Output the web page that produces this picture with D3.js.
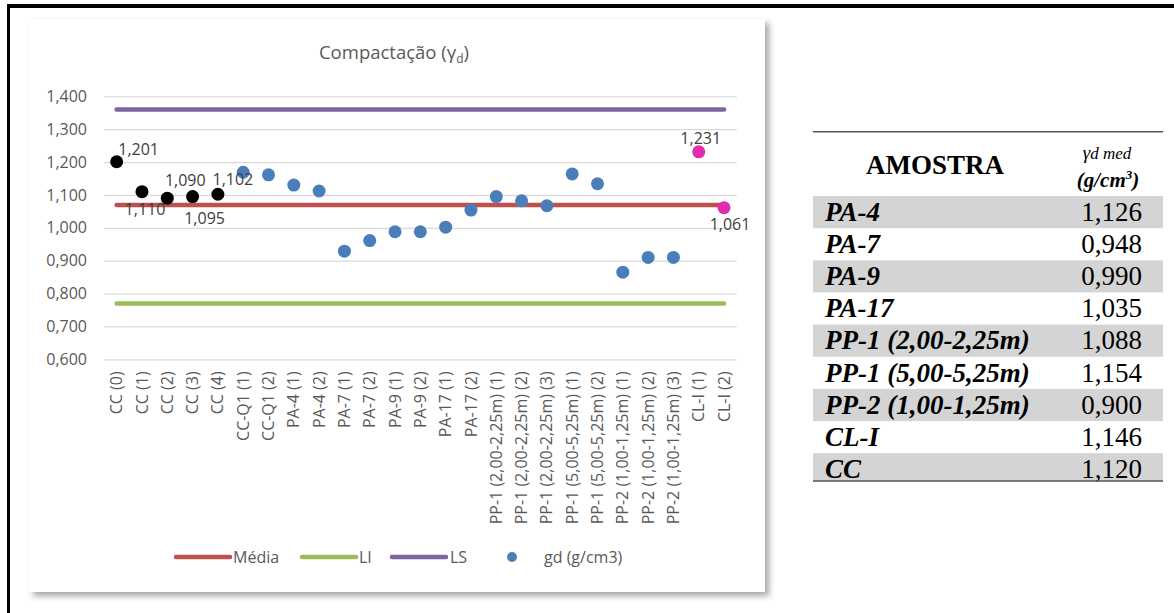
<!DOCTYPE html>
<html><head><meta charset="utf-8">
<script src="https://cdn.jsdelivr.net/npm/d3@7"></script>
<style>body{margin:0;background:#fff} svg{display:block}</style>
</head><body>
<svg id="c" width="1174" height="613"></svg>
<script>
// ---------- data ----------
const categories = ["CC (0)","CC (1)","CC (2)","CC (3)","CC (4)","CC-Q1 (1)","CC-Q1 (2)",
  "PA-4 (1)","PA-4 (2)","PA-7 (1)","PA-7 (2)","PA-9 (1)","PA-9 (2)","PA-17 (1)","PA-17 (2)",
  "PP-1 (2,00-2,25m) (1)","PP-1 (2,00-2,25m) (2)","PP-1 (2,00-2,25m) (3)",
  "PP-1 (5,00-5,25m) (1)","PP-1 (5,00-5,25m) (2)",
  "PP-2 (1,00-1,25m) (1)","PP-2 (1,00-1,25m) (2)","PP-2 (1,00-1,25m) (3)",
  "CL-I (1)","CL-I (2)"];
const gdValues = [1.201,1.110,1.090,1.095,1.102,1.169,1.161,1.130,1.112,0.929,0.961,0.988,0.988,1.002,1.054,
  1.095,1.082,1.067,1.164,1.134,0.865,0.910,0.910,1.231,1.061];
const pointGroup = ["CC","CC","CC","CC","CC","gd","gd","gd","gd","gd","gd","gd","gd","gd","gd",
  "gd","gd","gd","gd","gd","gd","gd","gd","CL","CL"];
const mediaValue = 1.069;
const liValue = 0.770;
const lsValue = 1.360;
const yTicks = [0.6,0.7,0.8,0.9,1.0,1.1,1.2,1.3,1.4];
const labelledIndex = [0,1,2,3,4,23,24];
const legendNames = ["Média","LI","LS","gd (g/cm3)"];
const titleText = "Compactação (γ";
const tableSamples = ["PA-4","PA-7","PA-9","PA-17","PP-1 (2,00-2,25m)","PP-1 (5,00-5,25m)","PP-2 (1,00-1,25m)","CL-I","CC"];
const tableMeans = [1.126,0.948,0.990,1.035,1.088,1.154,0.900,1.146,1.120];

// ---------- styles / layout ----------
const FONT = "'Open Sans', sans-serif";
const SERIF = "'Liberation Serif', 'Times New Roman', serif";
const TXT = "#595959";
const colors = {Média:"#C0504D", LI:"#9BBB59", LS:"#8064A2", gd:"#4A7EBB", CC:"#000000", CL:"#E12BB0"};
const locale = d3.formatLocale({decimal:",", thousands:".", grouping:[3], currency:["",""]});
const f3 = locale.format(".3f");

const svg = d3.select("#c");
const defs = svg.append("defs");
const flt = defs.append("filter").attr("id","sh").attr("x","-5%").attr("y","-5%").attr("width","112%").attr("height","112%");
flt.append("feDropShadow").attr("dx",4).attr("dy",4).attr("stdDeviation",3)
  .attr("flood-color","#000").attr("flood-opacity",0.35);

// outer frame
svg.append("rect").attr("x",7).attr("y",4).attr("width",1167).attr("height",4).attr("fill","#000");
svg.append("rect").attr("x",7).attr("y",4).attr("width",3).attr("height",609).attr("fill","#000");

// chart card
svg.append("rect").attr("x",29).attr("y",19).attr("width",736).attr("height",573)
  .attr("fill","#fff").attr("filter","url(#sh)");

const x = d3.scaleBand().domain(categories).range([104,736.7]);
const cx = d => x(d) + x.bandwidth()/2;
const y = d3.scaleLinear().domain([0.6,1.4]).range([359.3,96.3]);

// title
const t = svg.append("text").attr("x",394).attr("y",59).attr("text-anchor","middle")
  .attr("font-family",FONT).attr("font-size",18.5).attr("fill",TXT).text(titleText);
t.append("tspan").attr("font-size",12).attr("dy",4).text("d");
t.append("tspan").attr("dy",-4).text(")");

// y axis with gridlines
const yAxis = d3.axisLeft(y).tickValues(yTicks).tickFormat(f3).tickSize(-(736.7-104)).tickPadding(17);
const gy = svg.append("g").attr("transform","translate(104,0)").call(yAxis);
gy.select(".domain").remove();
gy.selectAll(".tick line").attr("stroke","#d9d9d9").attr("stroke-width",1.3);
gy.selectAll(".tick text").attr("font-family",FONT).attr("font-size",16).attr("fill",TXT);

// x axis
const xAxis = d3.axisBottom(x).tickSize(0);
const gx = svg.append("g").attr("transform","translate(0,359.3)").call(xAxis);
gx.select(".domain").remove();
gx.selectAll(".tick text").attr("font-family",FONT).attr("font-size",16).attr("fill",TXT)
  .attr("transform","rotate(-90)").attr("text-anchor","end").attr("x",-12).attr("y",0).attr("dy","0.35em");

// horizontal reference lines
const refLines = [["Média",mediaValue],["LI",liValue],["LS",lsValue]];
const lineGen = d3.line().x(d => cx(d[0])).y(d => y(d[1]));
refLines.forEach(([name,v]) => {
  svg.append("path").datum(categories.map(c => [c,v])).attr("d",lineGen)
    .attr("fill","none").attr("stroke",colors[name]).attr("stroke-width",4.5).attr("stroke-linecap","round");
});

// points
svg.append("g").selectAll("circle").data(gdValues).join("circle")
  .attr("cx",(d,i) => cx(categories[i])).attr("cy",d => y(d)).attr("r",6.5)
  .attr("fill",(d,i) => colors[pointGroup[i]]);

// data labels
const labelOffset = {0:[22,-12],1:[3,18],2:[18,-18],3:[12,22],4:[15,-15],23:[2,-13],24:[6,17]};
svg.append("g").selectAll("text").data(labelledIndex).join("text")
  .attr("x",i => cx(categories[i]) + labelOffset[i][0])
  .attr("y",i => y(gdValues[i]) + labelOffset[i][1])
  .attr("dy","0.35em").attr("text-anchor","middle")
  .attr("font-family",FONT).attr("font-size",16).attr("fill","#404040")
  .text(i => f3(gdValues[i]));

// legend
const legY = 557;
const legPos = [[176,230,233],[302,356,359],[392,446,450]];
legendNames.slice(0,3).forEach((n,k) => {
  const [a,b,tx] = legPos[k];
  svg.append("line").attr("x1",a).attr("x2",b).attr("y1",legY).attr("y2",legY)
    .attr("stroke",colors[n]).attr("stroke-width",4.5).attr("stroke-linecap","round");
  svg.append("text").attr("x",tx).attr("y",legY).attr("dy","0.35em")
    .attr("font-family",FONT).attr("font-size",16).attr("fill",TXT).text(n);
});
svg.append("circle").attr("cx",512).attr("cy",legY).attr("r",5).attr("fill",colors.gd);
svg.append("text").attr("x",544).attr("y",legY).attr("dy","0.35em")
  .attr("font-family",FONT).attr("font-size",16).attr("fill",TXT).text(legendNames[3]);

// ---------- table ----------
const tL = 813, tR = 1163, rowTop = 196, rowH = 32.15, tBottom = 481;
const tg = svg.append("g");
tableSamples.forEach((s,i) => {
  const top = rowTop + i*rowH;
  if (i % 2 === 0) {
    tg.append("rect").attr("x",tL).attr("y",top).attr("width",tR-tL)
      .attr("height",Math.min(rowH, tBottom-top)).attr("fill","#d4d4d4");
  }
  tg.append("text").attr("x",825).attr("y",top+24.8)
    .attr("font-family",SERIF).attr("font-size",27).attr("font-weight","bold").attr("font-style","italic")
    .attr("fill","#000").text(s);
  tg.append("text").attr("x",1142).attr("y",top+24.8).attr("text-anchor","end")
    .attr("font-family",SERIF).attr("font-size",27).attr("fill","#000").text(f3(tableMeans[i]));
});
tg.append("line").attr("x1",tL).attr("x2",tR).attr("y1",131.7).attr("y2",131.7).attr("stroke","#555").attr("stroke-width",1.5);
tg.append("line").attr("x1",tL).attr("x2",tR).attr("y1",tBottom).attr("y2",tBottom).attr("stroke","#555").attr("stroke-width",1.5);
tg.append("text").attr("x",935).attr("y",173.5).attr("text-anchor","middle")
  .attr("font-family",SERIF).attr("font-size",27).attr("font-weight","bold").attr("fill","#000").text("AMOSTRA");
const h1 = tg.append("text").attr("x",1107).attr("y",159).attr("text-anchor","middle")
  .attr("font-family",SERIF).attr("font-size",17).attr("font-style","italic").attr("fill","#000");
h1.append("tspan").attr("font-size",19).text("γ");
h1.append("tspan").text("d med");
const h2 = tg.append("text").attr("x",1108).attr("y",187).attr("text-anchor","middle")
  .attr("font-family",SERIF).attr("font-size",21).attr("font-weight","bold").attr("font-style","italic").attr("fill","#000");
h2.append("tspan").text("(g/cm");
h2.append("tspan").attr("font-size",13).attr("dy",-8).text("3");
h2.append("tspan").attr("dy",8).text(")");
</script>
</body></html>
